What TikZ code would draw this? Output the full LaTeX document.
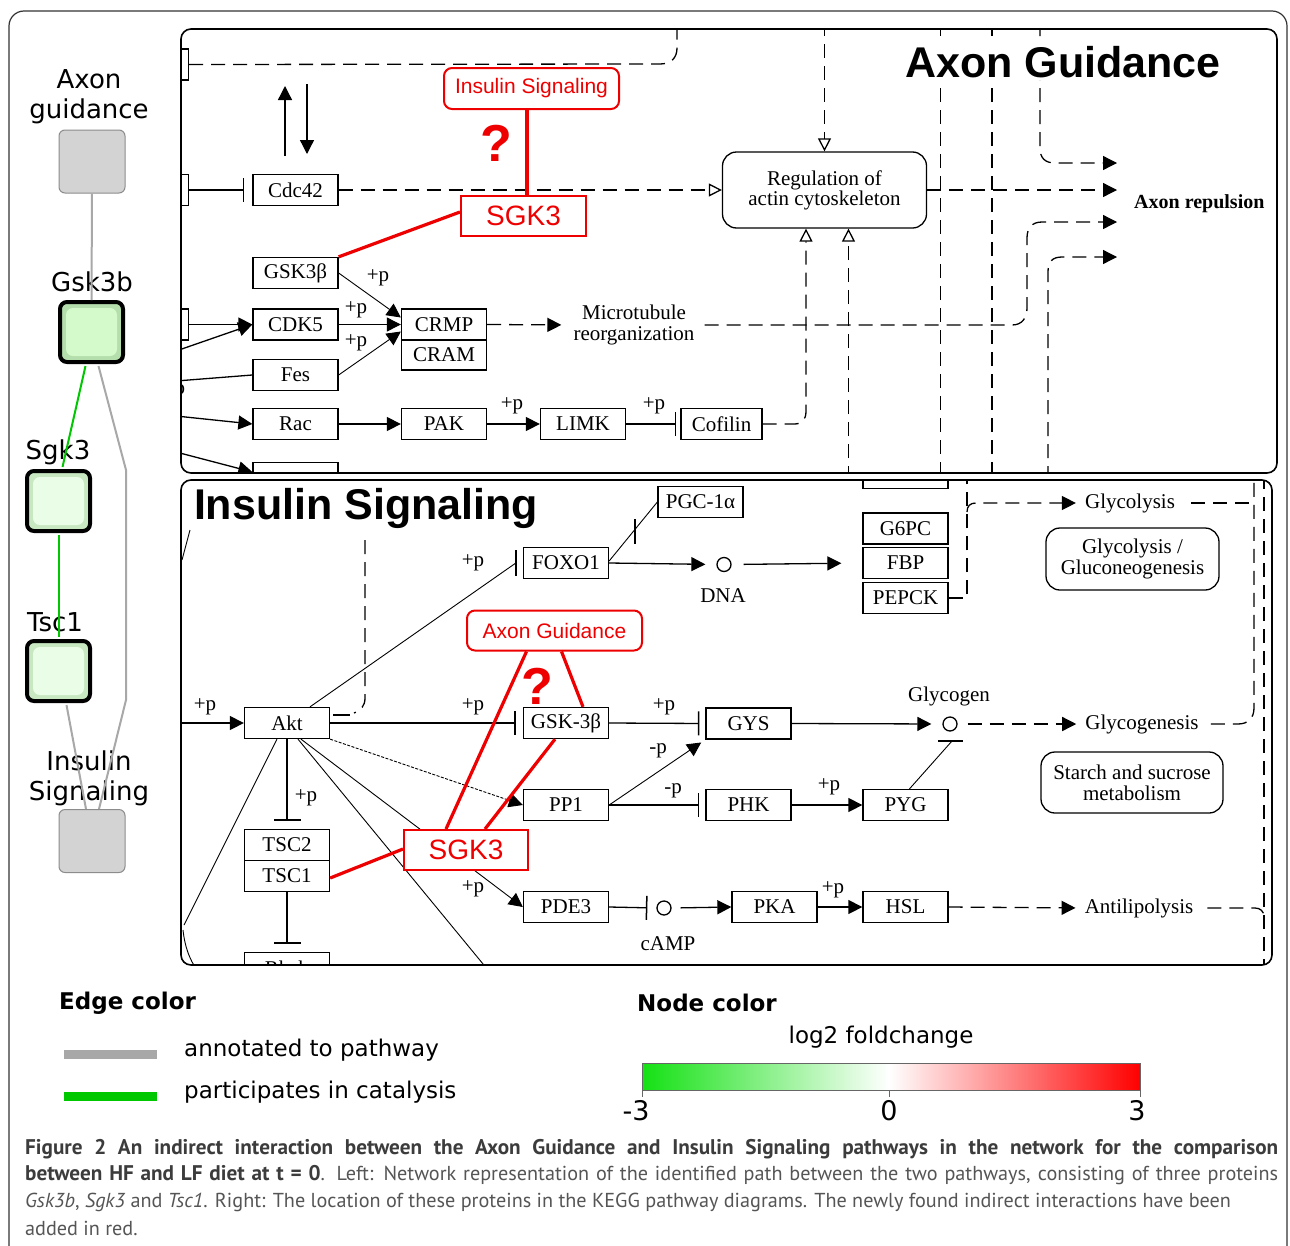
\documentclass[tikz,border=0pt]{standalone}
\usepackage{fontspec}
\usetikzlibrary{arrows.meta,calc}
\setmainfont{DejaVu Sans}
\newfontfamily\kegg{Liberation Serif}
\newfontfamily\arial{Liberation Sans}
\newfontfamily\capf{PT Sans}
\newcommand\fsz[2]{\fontsize{#1}{#2}\selectfont}
\definecolor{kred}{RGB}{238,0,0}
\definecolor{edgegray}{RGB}{168,168,168}
\definecolor{edgegreen}{RGB}{0,200,0}
\definecolor{boxgray}{RGB}{211,211,211}
\definecolor{gskout}{RGB}{180,222,172}
\definecolor{gskin}{RGB}{212,250,204}
\definecolor{lgout}{RGB}{200,232,194}
\definecolor{lgin}{RGB}{234,253,230}
\definecolor{cbgreen}{RGB}{20,225,20}
\definecolor{capbold}{RGB}{60,60,60}
\definecolor{captext}{RGB}{85,85,85}
\tikzset{
  kb/.style={draw, line width=1.3pt, fill=white, inner sep=0pt, minimum width=85pt, minimum height=31pt, font={\kegg\fsz{21}{22}}},
  kt/.style={inner sep=0pt, font={\kegg\fsz{21}{21}}, align=center},
  kl/.style={line width=1.3pt},
  kthin/.style={line width=0.9pt},
  kd/.style={line width=1.3pt, dash pattern=on 14pt off 8pt},
  ka/.style={-{Triangle[length=14pt,width=14pt]}},
  kbar/.style={-{Bar[width=24pt,line width=1.5pt]}},
  kopen/.style={-{Triangle[open,length=13pt,width=13pt,fill=white]}},
  rbox/.style={draw=kred, line width=2pt, fill=white, inner sep=0pt, text=kred, font={\arial\fsz{21}{24}}},
  rl/.style={draw=kred, line width=3.2pt},
  qmark/.style={inner sep=0pt, text=kred, font={\arial\bfseries\fsz{52}{56}}},
  ptitle/.style={font={\arial\bfseries\fsz{43}{50}}, fill=white, inner sep=2pt},
  panel/.style={line width=1.6pt, rounded corners=10pt},
  gnode/.style={draw=black!45, line width=1pt, fill=boxgray, rounded corners=6pt, minimum width=66pt, minimum height=63pt, inner sep=0pt},
  pnode/.style 2 args={draw=black, line width=4pt, fill=#1, rounded corners=7pt, minimum width=63pt, minimum height=60pt, inner sep=0pt,
     path picture={\fill[#2] ([xshift=6pt,yshift=-6pt]path picture bounding box.north west) rectangle ([xshift=-6pt,yshift=6pt]path picture bounding box.south east);}},
  netlbl/.style={inner sep=0pt, font={\fsz{26}{30}}, align=center},
  gedge/.style={draw=edgegray, line width=2pt},
  gnedge/.style={draw=edgegreen, line width=2pt},
  leg/.style={inner sep=0pt, anchor=west, font={\fsz{23}{26}}},
  legb/.style={inner sep=0pt, anchor=west, font={\bfseries\fsz{23}{26}}},
  capl/.style={inner sep=0pt, anchor=west, font={\capf\fsz{20.2}{22}}, text=captext},
}
\newcommand\capbf[1]{{\color{capbold}\bfseries\fsz{21.2}{22}#1}}
\begin{document}
\begin{tikzpicture}[x=1pt,y=-1pt]
\useasboundingbox (0,0) rectangle (1290,1245);
\clip (0,0) rectangle (1290,1245);
\fill[white] (0,0) rectangle (1290,1245);
% outer frame
\draw[line width=1.2pt, draw=black!80, rounded corners=15pt] (9,1300) -- (9,11) -- (1287,11) -- (1287,1300);

% ================= left network =================
\node[netlbl] (agl) at (89,97) {Axon\\guidance};
\node[netlbl] (gskl) at (92,282) {Gsk3b};
\node[netlbl] (sgkl) at (58,452) {Sgk3};
\node[netlbl] (tscl) at (55,622) {Tsc1};
\node[netlbl] (isl) at (89,778) {Insulin\\Signaling};
\node[gnode] (ag) at (92,161.5) {};
\node[gnode] (is) at (92,841) {};
\node[pnode={gskout}{gskin}] (gsk) at (91.5,332) {};
\node[pnode={lgout}{lgin}] (sgk) at (58.5,501) {};
\node[pnode={lgout}{lgin}] (tsc) at (58.5,671) {};
\coordinate (b1) at (126,470);
\coordinate (b2) at (126,700);
\draw[gedge] (ag.south) -- (gsk.north);
\draw[gnedge] ($(gsk.south)+(-6,2)$) -- ($(sgk.north)+(4,-2)$);
\draw[gnedge] ($(sgk.south)+(0,2)$) -- ($(tsc.north)+(0,-2)$);
\draw[gedge] ($(gsk.south)+(7,2)$) -- (b1) -- (b2) -- ($(is.north)+(7,0)$);
\draw[gedge] ($(tsc.south)+(8,2)$) -- ($(is.north)+(-6,0)$);

% ================= top panel: Axon Guidance =================
\begin{scope}
\clip[rounded corners=10pt] (181,29) rectangle (1277,473);
\node[kb, minimum width=9pt, anchor=east] (lb1) at (189,64.5) {};
\coordinate (tA) at (677,22);
\draw[kd] (lb1.east) -- (660,64) .. controls (671,64) and (677,58) .. (677,48) -- (tA);
\coordinate (ua1) at (285,156); \coordinate (ua2) at (285,86);
\coordinate (da1) at (307,84); \coordinate (da2) at (307,154);
\draw[kl,ka] (ua1) -- (ua2);
\draw[kl,ka] (da1) -- (da2);
\node[kb, minimum width=9pt, anchor=east] (lb2) at (189,190) {};
\node[kb] (cdc) at (295.5,190) {Cdc42};
\draw[kl,kbar,shorten >=8pt] (lb2.east) -- (cdc.west);
\node[kb, rounded corners=14pt, minimum width=204pt, minimum height=76pt, align=center, font={\kegg\fsz{21}{20}}] (reg) at (824.5,190) {Regulation of\\actin cytoskeleton};
\draw[kd,kopen] (cdc.east) -- (reg.west);
\coordinate (rt) at (824.5,22);
\draw[kd,kopen] (rt) -- (reg.north);
% vertical dashed lines
\coordinate (v1a) at (940.5,22); \coordinate (v1b) at (940.5,480);
\coordinate (v2a) at (992,22); \coordinate (v2b) at (992,480);
\draw[kd] (v1a) -- (v1b);
\draw[kd] (v2a) -- (v2b);
\coordinate (ar1) at (1117,163);
\coordinate (ar2) at (1117,190);
\coordinate (ar3) at (1117,222);
\coordinate (ar4) at (1117,257);
\draw[kd,ka] (reg.east) -- (ar2);
\coordinate (v3) at (1040,22);
\draw[kd,ka] (v3) -- (1040,148) .. controls (1040,158) and (1045,163) .. (1055,163) -- (ar1);
\coordinate (v4) at (1048,480);
\draw[kd,ka] (v4) -- (1048,272) .. controls (1048,262) and (1052,257) .. (1062,257) -- (ar4);
\coordinate (rb) at (848.5,480);
\draw[kd,kopen] (rb) -- (rb |- reg.south);
% column 1 boxes
\node[kb] (gsk3) at (295.5,273) {GSK3β};
\node[kb] (cdk) at (295.5,324.5) {CDK5};
\node[kb] (fes) at (295.5,375) {Fes};
\node[kb] (rac) at (295.5,424) {Rac};
\node[kb] (rnd) at (295.5,478) {};
\node[kb] (crmp) at (444,324.5) {CRMP};
\node[kb, minimum height=30pt] (cram) at (444,355) {CRAM};
\node[kb] (pak) at (444,424) {PAK};
\node[kb] (limk) at (583,424) {LIMK};
\node[kb, minimum width=81pt] (cof) at (721.5,424) {Cofilin};
\draw[kd,kopen] (cof.east) -- (794,424) .. controls (802,424) and (806,420) .. (806,411) -- (806,0 |- reg.south);
\node[kt] (mt) at (634,325) {Microtubule\\reorganization};
\draw[kd,ka,shorten >=12pt] (crmp.east) -- (mt.west);
\draw[kd,ka,shorten <=10pt] (mt.east) -- (1012,325) .. controls (1022,325) and (1027,318) .. (1027,308) -- (1027,238) .. controls (1027,228) and (1032,222) .. (1042,222) -- (ar3);
\node[kb, minimum width=9pt, anchor=east] (lb3) at (189,324.5) {};
\draw[kl,ka] (lb3.east) -- (cdk.west);
\coordinate (l1) at (176,351);
\draw[kl,ka] (l1) -- (cdk.west);
\coordinate (l2) at (176,381);
\draw[kl] (l2) -- (fes.west);
\node[kt] (p0) at (174,391) {+p};
\coordinate (l3) at (176,416);
\draw[kl,ka] (l3) -- (rac.west);
\coordinate (l4) at (176,452);
\draw[kl,ka] (l4) -- ($(rnd.west)+(0,-6)$);
\draw[kthin,ka] (gsk3.east) -- ($(crmp.west)+(0,-7)$);
\draw[kthin,ka] (cdk.east) -- (crmp.west);
\draw[kthin,ka] (fes.east) -- ($(crmp.west)+(0,7)$);
\node[kt] (p1) at (378,278) {+p};
\node[kt] (p2) at (356,310) {+p};
\node[kt] (p3) at (356,343) {+p};
\draw[kl,ka] (rac) -- (pak);
\draw[kl,ka] (pak) -- (limk);
\draw[kl,kbar,shorten >=4pt] (limk) -- (cof);
\node[kt] (p4) at (512,406) {+p};
\node[kt] (p5) at (654,406) {+p};
\node[inner sep=0pt, anchor=west, font={\kegg\bfseries\fsz{20}{22}}] (arep) at (1134,204) {Axon repulsion};
\node[ptitle] (tag) at (1063,62) {Axon Guidance};
% red additions
\node[rbox, rounded corners=8pt, minimum width=175pt, minimum height=41pt] (isr) at (531.5,88.5) {Insulin Signaling};
\node[qmark] (q1) at (496,143) {?};
\node[rbox, font={\arial\fsz{28}{30}}, minimum width=125pt, minimum height=40pt] (sgka) at (523.5,216) {SGK3};
\draw[rl] ($(isr.south)+(-4.5,0)$) -- ($(sgka.north)+(3.5,0)$);
\draw[rl] ($(sgka.west)+(0,-4)$) -- (gsk3.north east);
\end{scope}
\draw[panel] (181,29) rectangle (1277,473);

% ================= bottom panel: Insulin Signaling =================
\begin{scope}
\clip[rounded corners=10pt] (181,480) rectangle (1272,965);
\coordinate (dv1) at (365,540);
\draw[kd] (dv1) -- (365,698) .. controls (365,706) and (361,710) .. (354,713);
\coordinate (s1a) at (333,715); \coordinate (s1b) at (350,715);
\draw[kl] (s1a) -- (s1b);
\coordinate (c1a) at (190,530); \coordinate (c1b) at (182,560);
\draw[kthin] (c1a) -- (c1b);
\coordinate (c2a) at (183,930); \coordinate (c2b) at (197,970);
\draw[kthin] (c2a) .. controls (185,948) and (190,960) .. (c2b);
% boxes
\node[kb] (foxo) at (566,563) {FOXO1};
\node[kb] (pgc) at (700.5,502) {PGC-1α};
\node[kb] (akt) at (287,723) {Akt};
\node[kb] (gsk2) at (566,723) {GSK-3β};
\node[kb] (gys) at (748.5,723.5) {GYS};
\node[kb] (pp1) at (566,805) {PP1};
\node[kb] (phk) at (748.5,805) {PHK};
\node[kb] (pyg) at (905.5,805) {PYG};
\node[kb] (tsc2) at (287,845) {TSC2};
\node[kb] (tsc1) at (287,876) {TSC1};
\node[kb] (rheb) at (287,968) {Rheb};
\node[kb] (pde) at (566,907) {PDE3};
\node[kb] (pka) at (774.5,907) {PKA};
\node[kb] (hsl) at (905.5,907) {HSL};
\node[kb] (gk) at (905.5,473) {GK};
\node[kb] (g6pc) at (905.5,528.5) {G6PC};
\node[kb] (fbp) at (905.5,563) {FBP};
\node[kb] (pepck) at (905.5,598) {PEPCK};
\node[draw, circle, kl, minimum size=14pt, inner sep=0pt] (dna) at (724,564.5) {};
\node[draw, circle, kl, minimum size=14pt, inner sep=0pt] (glyc) at (950,724) {};
\node[draw, circle, kl, minimum size=14pt, inner sep=0pt] (camp) at (664,908) {};
\node[kt] (dnal) at (723,596) {DNA};
\node[kt] (glycl) at (949,696) {Glycogen};
\node[kt] (campl) at (668,944) {cAMP};
% Akt links
\draw[kthin] ($(akt.north)+(23,0)$) -- ($(foxo.west)+(-7,0)$);
\draw[kl] ($(foxo.west)+(-7,-13)$) -- ($(foxo.west)+(-7,13)$);
\node[kt] at (473,563) {+p};
\draw[kthin] ($(foxo.east)+(0,-2)$) -- (pgc.west);
\coordinate (pb1) at (635,519); \coordinate (pb2) at (635,544);
\draw[kl] (pb1) -- (pb2);
\draw[kl,ka,shorten >=11pt] (foxo.east) -- (dna.west);
\draw[kl,ka,shorten <=12pt,shorten >=21pt] (dna.east) -- (fbp.west);
\coordinate (dv2) at (967,475);
\draw[kd] (pepck.east) -- (967,598) -- (dv2);
\node[kt] (glycolysis) at (1130,503) {Glycolysis};
\draw[kd,ka,shorten >=9pt] (967,512) .. controls (967,506) and (970,503) .. (976,503) -- (glycolysis.west);
\coordinate (gy1) at (1254,503);
\draw[kd,shorten <=16pt] (glycolysis.east) -- (gy1);
\node[kb, rounded corners=14pt, minimum width=173pt, minimum height=62pt, align=center, font={\kegg\fsz{21}{21}}] (gg) at (1132.5,559) {Glycolysis /\\Gluconeogenesis};
\node[kb, rounded corners=14pt, minimum width=182pt, minimum height=61pt, align=center, font={\kegg\fsz{21}{21}}] (starch) at (1132,782.5) {Starch and sucrose\\metabolism};
\node[kt] (glycogenesis) at (1142,724) {Glycogenesis};
\node[kt] (antilip) at (1139,908) {Antilipolysis};
\coordinate (rv1t) at (1254,475);
\draw[kd,shorten <=12pt] (glycogenesis.east) -- (1238,724) .. controls (1248,724) and (1254,718) .. (1254,708) -- (rv1t);
\coordinate (rv2t) at (1264,475); \coordinate (rv2b) at (1264,970);
\draw[kd] (rv2t) -- (rv2b);
\draw[kd,shorten <=14pt] (antilip.east) -- (1255,908) .. controls (1260,908) and (1264,911) .. (1264,917);
\coordinate (al) at (176,723);
\draw[kl,ka] (al) -- (akt.west);
\node[kt] at (205,707) {+p};
\draw[kl,kbar,shorten >=7pt] (akt.east) -- (gsk2.west);
\node[kt] at (473,707) {+p};
\draw[kl,kbar,shorten >=6pt] (gsk2.east) -- (gys.west);
\node[kt] at (664,707) {+p};
\draw[kl,ka,shorten >=11pt] (gys.east) -- (glyc.west);
\draw[kd,ka,shorten <=10pt,shorten >=9pt] (glyc.east) -- (glycogenesis.west);
\coordinate (gb1) at (938,741); \coordinate (gb2) at (963,741); \coordinate (gb3) at (952,741);
\draw[kl] (gb1) -- (gb2);
\draw[kthin] ($(pyg.north)+(4,0)$) -- (gb3);
\draw[kthin,dash pattern=on 3pt off 1.5pt,ka] (akt.south east) -- (pp1.west);
\draw[kthin,ka,shorten >=5pt] (pp1.east) -- (gys.south west);
\node[kt] at (658,751) {-p};
\draw[kl,kbar,shorten >=6pt] (pp1.east) -- (phk.west);
\node[kt] at (673,791) {-p};
\draw[kl,ka] (phk.east) -- (pyg.west);
\node[kt] at (829,787) {+p};
\draw[kl,-{Bar[width=27pt,line width=1.5pt]},shorten >=8pt] (akt.south) -- (tsc2.north);
\node[kt] at (306,798) {+p};
\draw[kl,-{Bar[width=27pt,line width=1.5pt]},shorten >=8pt] (tsc1.south) -- (rheb.north);
\draw[kthin,ka] ($(akt.south)+(14,0)$) -- (pde.west);
\coordinate (ab) at (488,970);
\draw[kthin] ($(akt.south)+(11,0)$) -- (ab);
\coordinate (alb) at (184,925);
\draw[kthin] ($(akt.south)+(-10,0)$) -- (alb);
\node[kt] at (473,889) {+p};
\draw[kl,kbar,shorten >=9pt] (pde.east) -- (camp.west);
\draw[kl,ka,shorten <=9pt] (camp.east) -- (pka.west);
\draw[kl,ka] (pka.east) -- (hsl.west);
\node[kt] at (833,890) {+p};
\draw[kd,ka,shorten >=9pt] (hsl.east) -- (antilip.west);
\node[ptitle, inner sep=1pt] (tis) at (366,508) {Insulin Signaling};
% red additions
\node[rbox, rounded corners=8pt, minimum width=175pt, minimum height=40pt] (agr) at (554.5,630.5) {Axon Guidance};
\node[qmark] (q2) at (537,686) {?};
\node[rbox, font={\arial\fsz{28}{30}}, minimum width=124pt, minimum height=40pt] (sgkb) at (466,850) {SGK3};
\draw[rl] ($(agr.south)+(-28,0)$) -- ($(sgkb.north)+(-20,0)$);
\draw[rl] ($(agr.south)+(7,0)$) -- ($(gsk2.north)+(17,0)$);
\draw[rl] ($(gsk2.south)+(-11,0)$) -- ($(sgkb.north)+(19,0)$);
\draw[rl] ($(sgkb.west)+(0,-1)$) -- ($(tsc1.east)+(0,2)$);
\end{scope}
\draw[panel] (181,480) rectangle (1272,965);

% ================= legend =================
\node[legb] (ec) at (59,1003) {Edge color};
\coordinate (lg1) at (64,1054); \coordinate (lg2) at (157,1054);
\coordinate (lg3) at (64,1096); \coordinate (lg4) at (157,1096);
\draw[draw=edgegray, line width=9pt] (lg1) -- (lg2);
\draw[draw=edgegreen, line width=9pt] (lg3) -- (lg4);
\node[leg] (lt1) at (184,1050) {annotated to pathway};
\node[leg] (lt2) at (184,1092) {participates in catalysis};
\node[legb] (nc) at (637,1003) {Node color};
\node[inner sep=0pt, font={\fsz{23}{26}}] (lfc) at (881,1037) {log2 foldchange};
\shade[left color=cbgreen, right color=white] (642,1063) rectangle (889,1090);
\shade[left color=white, right color=red] (889,1063) rectangle (1140,1090);
\draw[black!60, line width=0.8pt] (642,1063) rectangle (1140,1090);
\foreach \xx in {642,889,1140} \draw[black!60, line width=0.8pt] (\xx,1090) -- (\xx,1097);
\node[inner sep=0pt, font={\fsz{27}{30}}] (n1) at (636,1111) {-3};
\node[inner sep=0pt, font={\fsz{27}{30}}] (n2) at (889,1111) {0};
\node[inner sep=0pt, font={\fsz{27}{30}}] (n3) at (1137,1111) {3};

% ================= caption =================
\node[capl] (cap1) at (25,1149) {\makebox[1253pt][s]{\capbf{Figure 2 An indirect interaction between the Axon Guidance and Insulin Signaling pathways in the network for the comparison}}};
\node[capl] (cap2) at (25,1175) {\makebox[1253pt][s]{\capbf{between HF and LF diet at t = 0}. Left: Network representation of the identified path between the two pathways, consisting of three proteins}};
\node[capl] (cap3) at (25,1202) {\textit{Gsk3b}, \textit{Sgk3} and \textit{Tsc1}. Right: The location of these proteins in the KEGG pathway diagrams. The newly found indirect interactions have been};
\node[capl] (cap4) at (25,1228) {added in red.};
\end{tikzpicture}
\end{document}
